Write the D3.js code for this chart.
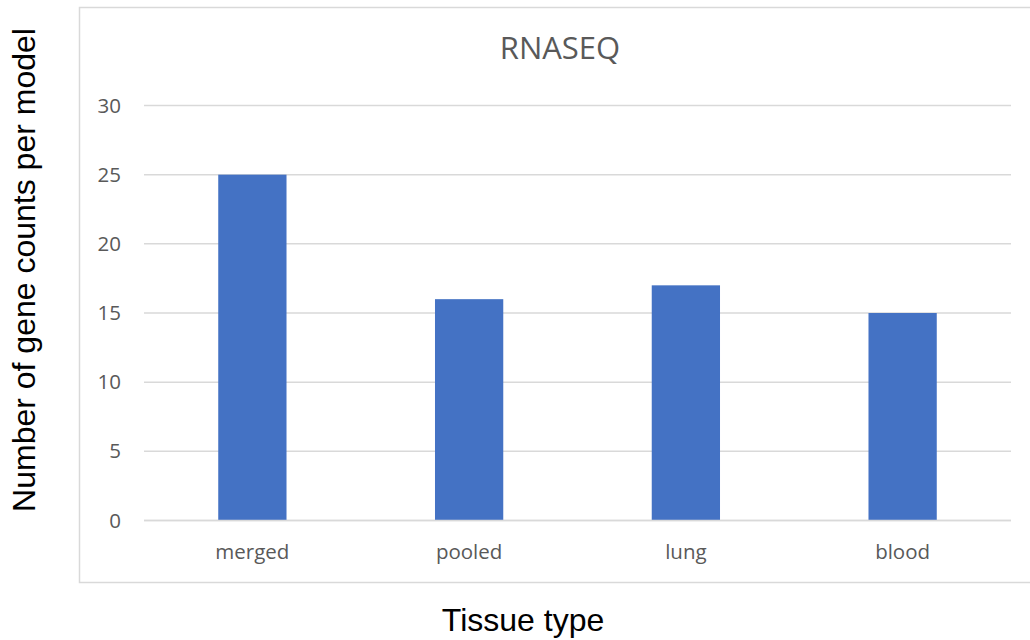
<!DOCTYPE html>
<html>
<head>
<meta charset="utf-8">
<script src="https://cdn.jsdelivr.net/npm/d3@7"></script>
<style>
html,body{margin:0;padding:0;background:#fff;}
svg{display:block;}
</style>
</head>
<body>
<svg id="chart" width="1030" height="640"></svg>
<script>
const categories = ["merged", "pooled", "lung", "blood"];
const values = [25, 16, 17, 15];
const yTicks = [0, 5, 10, 15, 20, 25, 30];
const chartTitle = "RNASEQ";
const xTitle = "Tissue type";
const yTitle = "Number of gene counts per model";

const svg = d3.select("#chart");
const margin = {left: 144, right: 1011, top: 105.5, bottom: 520.5};

// chart area border
svg.append("rect")
  .attr("x", 79.5).attr("y", 7.5)
  .attr("width", 1000).attr("height", 575)
  .attr("fill", "#fff").attr("stroke", "#d9d9d9").attr("stroke-width", 1.5);

const x = d3.scaleBand().domain(categories).range([margin.left, margin.right]).paddingInner(0.685).paddingOuter(0.3425);
const y = d3.scaleLinear().domain([0, 30]).range([margin.bottom, margin.top]);

// gridlines
svg.append("g").selectAll("line").data(yTicks).join("line")
  .attr("x1", margin.left).attr("x2", margin.right)
  .attr("y1", d => y(d)).attr("y2", d => y(d))
  .attr("stroke", "#d9d9d9").attr("stroke-width", 1.5);

// y tick labels
const yAxis = d3.axisLeft(y).tickValues(yTicks).tickSize(0).tickPadding(0);
const gy = svg.append("g").attr("transform", `translate(${margin.left - 23},0)`).call(yAxis);
gy.select(".domain").remove();
gy.selectAll("text").attr("font-family", "Open Sans, sans-serif").attr("font-size", 20.5).attr("fill", "#595959");

// bars
svg.append("g").selectAll("rect").data(values).join("rect")
  .attr("x", (d, i) => x(categories[i]))
  .attr("width", x.bandwidth())
  .attr("y", d => y(d))
  .attr("height", d => y(0) - y(d))
  .attr("fill", "#4472c4");

// redraw zero line on top
svg.append("line").attr("x1", margin.left).attr("x2", margin.right)
  .attr("y1", y(0)).attr("y2", y(0)).attr("stroke", "#d9d9d9").attr("stroke-width", 1.5);

// x axis labels
const xAxis = d3.axisBottom(x).tickSize(0).tickPadding(0);
const gx = svg.append("g").attr("transform", `translate(0,559)`).call(xAxis);
gx.select(".domain").remove();
gx.selectAll("text").attr("y", 0).attr("dy", 0)
  .attr("font-family", "Open Sans, sans-serif").attr("font-size", 20.5).attr("fill", "#595959");

// title
svg.append("text").attr("x", 560).attr("y", 59).attr("text-anchor", "middle")
  .attr("font-family", "Open Sans, sans-serif").attr("font-size", 31).attr("fill", "#595959")
  .text(chartTitle);

// axis titles
svg.append("text").attr("x", 523).attr("y", 631).attr("text-anchor", "middle")
  .attr("font-family", "Liberation Sans, Arial, sans-serif").attr("font-size", 32).attr("fill", "#000")
  .text(xTitle);
svg.append("text").attr("transform", "translate(35,270) rotate(-90)").attr("text-anchor", "middle")
  .attr("font-family", "Liberation Sans, Arial, sans-serif").attr("font-size", 32).attr("fill", "#000")
  .text(yTitle);
</script>
</body>
</html>
